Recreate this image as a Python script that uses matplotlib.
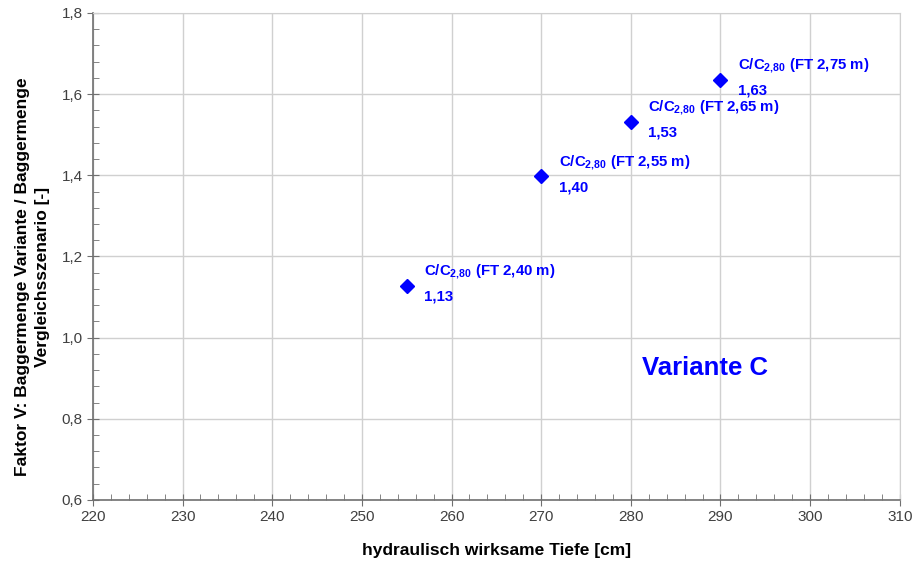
import numpy as np
import matplotlib.pyplot as plt
from matplotlib.ticker import MultipleLocator, FuncFormatter

plt.rcParams['font.family'] = ['Liberation Sans', 'DejaVu Sans']
plt.rcParams['mathtext.fontset'] = 'custom'
plt.rcParams['mathtext.rm'] = 'Liberation Sans:bold'
plt.rcParams['mathtext.bf'] = 'Liberation Sans:bold'

# data
tiefe = [255, 270, 280, 290]
faktor = [1.128, 1.398, 1.532, 1.636]
ft = ['2,40', '2,55', '2,65', '2,75']
werte = ['1,13', '1,40', '1,53', '1,63']

blue = '#0000ff'
grid_col = '#d0d0d0'
axis_col = '#707070'

fig = plt.figure(figsize=(9.2, 5.63), dpi=100)
ax = fig.add_axes([0.101, 0.112, 0.877, 0.865])

ax.plot(tiefe, faktor, linestyle='none', marker='D', markersize=7, color=blue, zorder=3)

# point labels (offsets in points, 0.72 pt = 1 px at 100 dpi)
for x, y, f, w in zip(tiefe, faktor, ft, werte):
    ax.annotate(r'C/C$_{\bf 2{,}80}$ (FT ' + f + ' m)', (x, y), xytext=(12.5, 10),
                textcoords='offset points', fontsize=10.8, fontweight='bold',
                color=blue, va='center', ha='left')
    ax.annotate(w, (x, y), xytext=(12.5, -8), textcoords='offset points',
                fontsize=10.8, fontweight='bold', color=blue, va='center', ha='left')

ax.text(281.2, 0.925, 'Variante C', fontsize=18.5, fontweight='bold', color=blue,
        va='center')

ax.set_xlim(220, 310)
ax.set_ylim(0.6, 1.8)
ax.xaxis.set_major_locator(MultipleLocator(10))
ax.xaxis.set_minor_locator(MultipleLocator(2))
ax.yaxis.set_major_locator(MultipleLocator(0.2))
ax.yaxis.set_minor_locator(MultipleLocator(0.04))
ax.yaxis.set_major_formatter(FuncFormatter(lambda v, p: ('%.1f' % v).replace('.', ',')))

ax.grid(True, which='major', color=grid_col, linewidth=1)
ax.set_axisbelow(True)
for s in ['top', 'right']:
    ax.spines[s].set_color(grid_col)
for s in ['left', 'bottom']:
    ax.spines[s].set_color(axis_col)
    ax.spines[s].set_linewidth(1.2)

ax.tick_params(which='major', direction='inout', length=8, color=axis_col,
               labelsize=11, labelcolor='#404040', top=False, right=False)
ax.tick_params(which='minor', direction='in', length=4, color=axis_col,
               top=False, right=False)

ax.set_xlabel('hydraulisch wirksame Tiefe [cm]', fontsize=12.5, fontweight='bold')
ax.xaxis.set_label_coords(0.5, -0.088)
ax.set_ylabel('Faktor V: Baggermenge Variante / Baggermenge\nVergleichsszenario [-]',
              fontsize=12.5, fontweight='bold', linespacing=1.45)
ax.yaxis.set_label_coords(-0.053, 0.458)

fig.savefig('out.png', dpi=100)
